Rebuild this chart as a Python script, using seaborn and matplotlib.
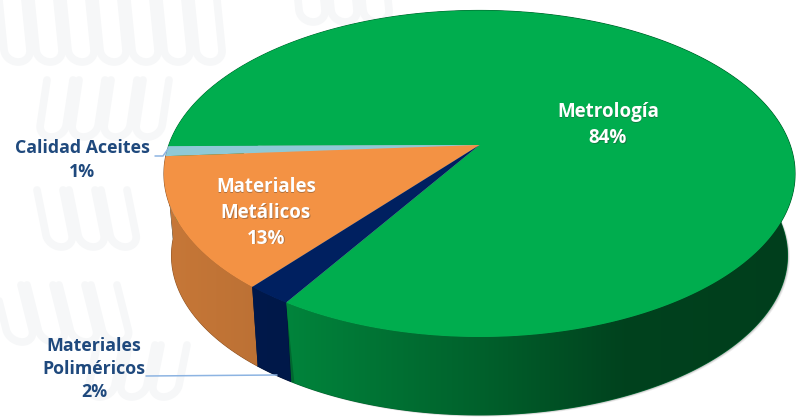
import numpy as np
import matplotlib
matplotlib.use("Agg")
import matplotlib.pyplot as plt
import seaborn as sns
from matplotlib.colors import to_rgb
from matplotlib.patches import PathPatch
from matplotlib.path import Path
from matplotlib.transforms import Affine2D, Transform

# Shares of the laboratory services
categories = ["Metrología", "Calidad Aceites", "Materiales\nMetálicos", "Materiales\nPoliméricos"]
shares = [84, 1, 13, 2]
slice_colors = ["#00AD4E", "#8FC9D6", "#F39244", "#002060"]
label_colors = ["white", "#1F497D", "white", "#1F497D"]
label_xy = [(608, 125), (82, 160), (266, 213), (94, 369)]

sns.set_theme(style="white")
plt.rcParams["font.family"] = ["Open Sans", "DejaVu Sans"]


class TiltedDisc(Transform):
    """Perspective view of the unit disc, in pixel-style coordinates."""
    input_dims = output_dims = 2

    def __init__(self, cx, cy, scale=1.0, a=310.6, b=158.2, k=0.176):
        super().__init__()
        self.cx, self.cy, self.scale, self.a, self.b, self.k = cx, cy, scale, a, b, k

    def transform_non_affine(self, xy):
        xy = np.asarray(xy, dtype=float)
        w = 1 + self.k * xy[:, 1]
        u = self.cx + self.scale * self.a * xy[:, 0] / w
        v = self.cy - self.scale * self.b * xy[:, 1] / w
        return np.column_stack([u, v])

    def transform_path_non_affine(self, path):
        # Flatten the arcs first so they stay smooth under the projection
        flat = path.transformed(Affine2D().scale(2000)).to_polygons(closed_only=True)
        return Path(self.transform_non_affine(flat[0] / 2000), closed=True)


top_face = TiltedDisc(479.5, 145)
bottom_face = TiltedDisc(479.5, 227.5, scale=0.976)

fig = plt.figure(figsize=(7.96, 4.18), dpi=100, facecolor="white")
ax = fig.add_axes([0, 0, 1, 1])

wedges, _ = ax.pie(shares, colors=slice_colors, startangle=238, counterclock=True,
                   wedgeprops={"linewidth": 0})
ax.set_aspect("auto")
ax.axis("off")

# Pale background motif: rows of narrow rounded loops
motif = "#F6F7F8"
for x0, y0, n, h, lean in [(12, 0, 7, 50, 0.10), (60, 80, 4, 45, -0.15), (50, 190, 3, 45, 0.2),
                           (8, 285, 4, 45, 0.25), (110, 345, 3, 40, -0.2), (310, -10, 3, 20, 0.1)]:
    for i in range(n):
        s = np.linspace(0, np.pi, 30)
        ys = np.r_[y0, y0 + h + 12 * np.sin(s), y0]
        xs = np.r_[13, 13 * np.cos(s), -13] + x0 + i * 32 + lean * (ys - y0)
        ax.plot(xs, ys, color=motif, lw=5.5, solid_capstyle="round", zorder=0)

# Soft shadow under the rim
theta_all = np.radians(np.arange(0, 361))
ring = np.column_stack([np.cos(theta_all), np.sin(theta_all)])
rim_bottom = bottom_face.transform_non_affine(ring)
for off, alpha in [(3.0, 0.10), (2.0, 0.16), (1.0, 0.25)]:
    ax.fill(rim_bottom[:, 0] + off * 0.8, rim_bottom[:, 1] + off * 0.6,
            color="#555555", alpha=alpha, lw=0, zorder=1)

# Rim of each slice, shaded left to right and clipped to the slice's arc
shade_x = np.arange(150, 800)
shade = np.interp(shade_x, [160, 290, 480, 625, 790], [0.82, 0.76, 0.56, 0.38, 0.36])
for wedge, color in zip(wedges, slice_colors):
    angles = np.radians(np.linspace(wedge.theta1, wedge.theta2, 400))
    arc = np.column_stack([np.cos(angles), np.sin(angles)])
    outline = np.vstack([top_face.transform_non_affine(arc),
                         bottom_face.transform_non_affine(arc)[::-1]])
    base = np.array(to_rgb(color))
    # Solid underlay keeps the joins between slices free of gaps
    ax.fill(outline[:, 0], outline[:, 1], color=base * 0.6, lw=0.8, zorder=2)
    gradient = base[None, None, :] * shade[None, :, None]
    image = ax.imshow(gradient, extent=(150, 800, 418, 0), aspect="auto",
                      interpolation="bilinear", zorder=2.5)
    image.set_clip_path(PathPatch(Path(outline, closed=True), transform=ax.transData))

ax.set_xlim(0, 796)
ax.set_ylim(418, 0)

for wedge in wedges:
    wedge.set_transform(top_face + ax.transData)
    wedge.set_zorder(3)

# Leader lines for the outside labels
ax.plot([155, 163, 168], [156, 156, 149], color="#8DB4E2", lw=1.1, zorder=4)
ax.plot([146, 277], [376, 375], color="#8DB4E2", lw=1.1, zorder=4)

# Slice labels
for name, value, color, (x, y) in zip(categories, shares, label_colors, label_xy):
    text = f"{name}\n{value}%"
    if color == "white":
        ax.text(x + 0.8, y + 0.8, text, color="#333333", alpha=0.35, ha="center", va="center",
                fontsize=13.5, fontweight="bold", linespacing=1.38, zorder=5)
        size = 13.5
    else:
        size = 12.8
    ax.text(x, y, text, color=color, ha="center", va="center",
            fontsize=size, fontweight="bold", linespacing=1.38, zorder=6)

fig.savefig("out.png", dpi=100, facecolor="white")
